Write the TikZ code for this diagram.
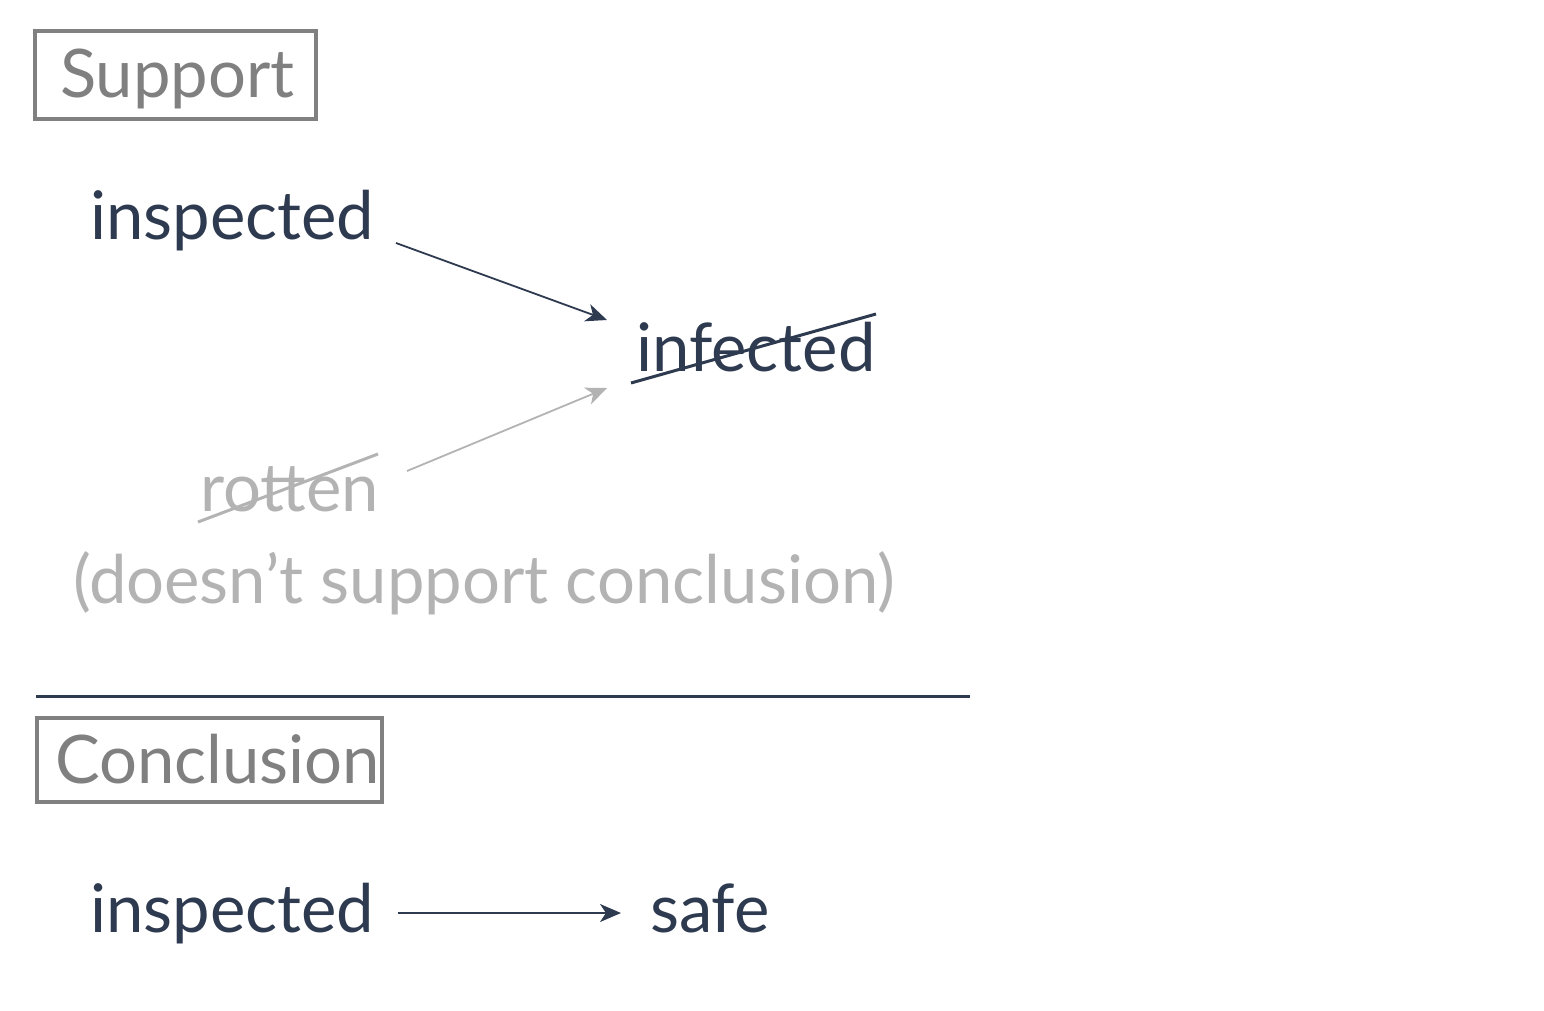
\documentclass[tikz,border=0pt]{standalone}
\usepackage{fontspec}
\setmainfont{Lato}
\usetikzlibrary{arrows.meta}
\definecolor{ink}{HTML}{2E3A4F}
\definecolor{boxgray}{HTML}{808080}
\definecolor{faint}{HTML}{B3B3B3}
\tikzset{
  every node/.style={inner sep=0pt, outer sep=0pt, anchor=base west},
  word/.style={text=ink, font=\fontsize{67}{78}\selectfont},
  faintword/.style={text=faint, font=\fontsize{67}{78}\selectfont},
  label/.style={text=boxgray, font=\fontsize{67}{78}\selectfont},
  frame/.style={draw=boxgray, line width=3.5pt},
  link/.style={draw=ink, line width=1.8pt, -{Stealth[length=21pt,width=18pt,inset=6pt]}},
  faintlink/.style={draw=faint, line width=1.8pt, -{Stealth[length=21pt,width=18pt,inset=6pt]}},
  strike/.style={line width=3pt},
}
\begin{document}
\begin{tikzpicture}[x=1pt,y=-1pt]
\useasboundingbox (0,0) rectangle (1544,1011);
% Support box
\draw[frame] (35,31) rectangle (316,119);
\node[label] (sup) at (60,98) {Support};
% words
\node[word] (insp1) at (90,240) {inspected};
\node[word] (inf) at (636,371) {infected};
\node[faintword] (rot) at (200,511) {rotten};
\node[faintword] (note) at (73,603) {(doesn’t support conclusion)};
% arrows
\coordinate (a1s) at (396,243);
\coordinate (a1e) at (607,320);
\draw[link] (a1s) -- (a1e);
\coordinate (a2s) at (407,471);
\coordinate (a2e) at (607,388);
\draw[faintlink] (a2s) -- (a2e);
% strikes
\coordinate (s1a) at (631,383);
\coordinate (s1b) at (876,314);
\draw[strike, draw=ink] (s1a) -- (s1b);
\coordinate (s2a) at (198,522);
\coordinate (s2b) at (378,454);
\draw[strike, draw=faint] (s2a) -- (s2b);
% separator
\coordinate (l1) at (36,696);
\coordinate (l2) at (970,696);
\draw[draw=ink, line width=3pt] (l1) -- (l2);
% Conclusion box
\draw[frame] (37,718) rectangle (382,802);
\node[label] (con) at (55,783) {Conclusion};
\node[word] (insp2) at (90,932) {inspected};
\node[word] (safe) at (650,932) {safe};
\coordinate (a3s) at (398,913);
\coordinate (a3e) at (621,913);
\draw[link] (a3s) -- (a3e);
\end{tikzpicture}
\end{document}
